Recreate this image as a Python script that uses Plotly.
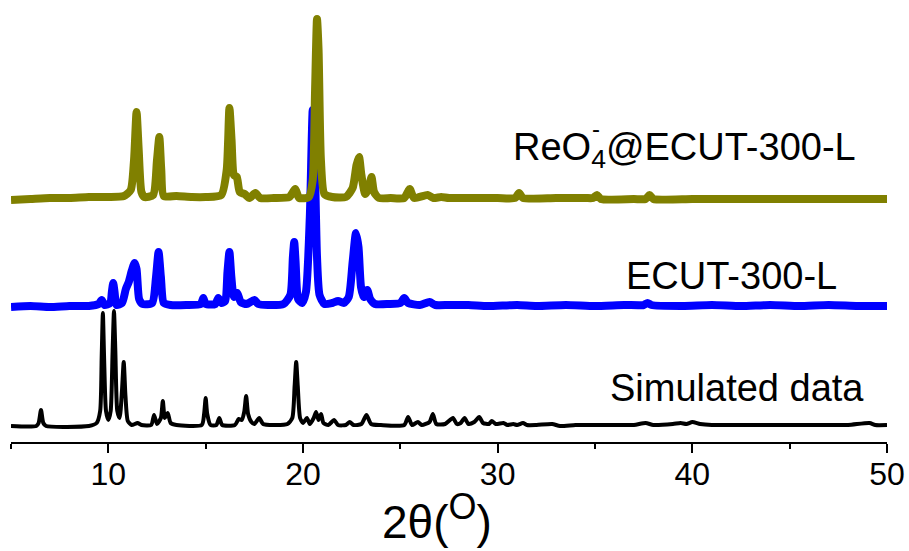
import plotly.graph_objects as go

# ---- data (2-theta in degrees, intensity in arbitrary units above each baseline) ----
sim_x = [5.0, 6.3, 6.42, 6.54, 6.66, 6.8, 9.0, 9.4, 9.58, 9.66, 9.72, 9.78, 9.88, 10.0,
         10.12, 10.22, 10.29, 10.36, 10.46, 10.58, 10.7, 10.79, 10.88, 11.0, 11.2,
         11.5, 11.7, 12.2, 12.35, 12.5, 12.7, 12.8, 12.9, 13.05, 13.2, 13.5, 14.8, 14.92, 15.0,
         15.08, 15.25, 15.55, 15.7, 15.85, 16.5, 16.7, 16.85, 16.98, 17.08, 17.18, 17.35, 17.5,
         17.75, 17.95, 18.5, 19.2, 19.45, 19.57, 19.65, 19.73, 19.85, 20.0, 20.2, 20.35, 20.55,
         20.67, 20.8, 20.93, 21.05, 21.3, 21.6, 21.8, 22.2, 22.4, 22.6, 23.0, 23.26, 23.5, 24.0,
         25.2, 25.4, 25.6, 25.9, 26.1, 26.5, 26.67, 26.85, 27.3, 27.7, 27.9, 28.1, 28.3, 28.5,
         28.8, 29.05, 29.25, 29.55, 29.7, 29.9, 30.3, 30.5, 30.8, 31.0, 31.3, 31.5, 32.0, 32.8,
         33.2, 34.0, 35.0, 36.0, 37.0, 37.6, 38.0, 39.0, 39.4, 39.7, 40.0, 40.4, 41.0, 42.0,
         43.5, 45.0, 46.5, 48.0, 49.1, 49.4, 50.0]
sim_y = [0, 0, 3, 16, 3, 0, 0, 3, 15, 70, 113, 70, 15, 6,
         15, 75, 115, 75, 15, 8, 35, 64, 30, 5, 1,
         3, 1, 1, 11, 2, 8, 25, 8, 13, 3, 1, 1, 12, 28,
         12, 1, 1, 8, 1, 1, 7, 6, 14, 30, 12, 4, 2,
         8, 2, 1, 2, 8, 40, 64, 40, 8, 3, 8, 2, 8,
         14, 6, 12, 3, 1, 6, 1, 1, 4, 1, 2, 11, 2, 1,
         1, 9, 1, 4, 1, 4, 12, 2, 2, 8, 2, 3, 8, 2,
         4, 9, 3, 2, 5, 2, 3, 1, 2, 1, 3, 1, 1, 2,
         0, 1, 1, 1, 1, 3, 1, 2, 3, 2, 4, 2, 1, 1,
         1, 1, 1, 1, 3, 1, 1]

ecut_x = [5.0, 6.0, 7.0, 8.0, 9.0, 9.5, 9.66, 9.8, 10.1, 10.18, 10.25, 10.32, 10.42, 10.7,
          10.9, 11.05, 11.2, 11.35, 11.45, 11.58, 11.75, 12.25, 12.45, 12.58, 12.7, 12.85,
          13.2, 14.0, 14.75, 14.88, 15.0, 15.5, 15.65, 15.8, 16.0, 16.12, 16.22, 16.32, 16.45,
          16.62, 16.8, 17.1, 17.5, 17.7, 18.2, 19.0, 19.35, 19.48, 19.55, 19.62, 19.75, 19.95,
          20.15, 20.35, 20.5, 20.6, 20.72, 20.85, 21.1, 21.5, 21.8, 22.1, 22.35, 22.55, 22.72,
          22.85, 22.98, 23.12, 23.3, 23.45, 23.7, 24.4, 25.0, 25.2, 25.4, 26.0, 26.5, 26.8,
          27.5, 28.5, 29.5, 31.0, 32.0, 33.5, 35.0, 36.5, 37.5, 37.7, 37.9, 39.5, 41.0, 42.5,
          44.0, 45.5, 47.0, 48.5, 50.0]
ecut_y = [0, 1, 0, 1, 1, 3, 7, 2, 4, 15, 24, 15, 2, 4,
          18, 25, 36, 44, 38, 8, 3, 4, 30, 55, 30, 4,
          2, 2, 3, 9, 3, 3, 9, 4, 6, 35, 55, 30, 10,
          14, 5, 3, 7, 3, 2, 3, 12, 50, 65, 45, 8, 4,
          15, 90, 197, 150, 50, 12, 3, 4, 6, 4, 10, 45, 74,
          60, 20, 10, 17, 8, 3, 3, 4, 9, 4, 2, 5, 2,
          2, 2, 1, 2, 1, 2, 1, 2, 2, 4, 2, 1, 2, 1,
          2, 1, 2, 1, 1]

reo4_x = [5.0, 6.0, 7.0, 8.0, 9.0, 10.0, 10.8, 11.15, 11.32, 11.45, 11.56, 11.7, 11.85, 12.3,
          12.5, 12.62, 12.72, 12.85, 13.5, 14.3, 15.0, 15.8, 16.08, 16.22, 16.33, 16.45, 16.6,
          16.75, 17.0, 17.25, 17.55, 17.8, 18.5, 19.3, 19.6, 19.8, 20.3, 20.5, 20.62, 20.72,
          20.8, 20.92, 21.1, 21.5, 22.2, 22.55, 22.75, 22.88, 23.0, 23.2, 23.38, 23.52, 23.65,
          23.9, 24.5, 25.2, 25.48, 25.7, 26.4, 26.7, 27.1, 27.5, 29.0, 30.0, 30.9, 31.1, 31.3,
          33.0, 34.5, 34.9, 35.1, 35.3, 37.0, 37.6, 37.8, 38.0, 40.0, 42.0, 44.0, 46.0, 48.0,
          50.0]
reo4_y = [0, 1, 2, 2, 3, 3, 4, 10, 40, 88, 50, 8, 3, 5,
          40, 63, 30, 4, 4, 3, 3, 5, 30, 92, 60, 25, 23,
          8, 6, 2, 7, 2, 2, 3, 11, 2, 3, 20, 110, 181,
          150, 40, 6, 3, 3, 12, 35, 43, 25, 6, 12, 23, 8,
          2, 2, 2, 11, 2, 5, 2, 3, 2, 2, 2, 2, 7, 2,
          2, 2, 2, 5, 1, 1, 1, 5, 1, 1, 1, 1, 1, 1,
          1]

tick_vals = [10, 20, 30, 40, 50]
tick_text = ["10", "20", "30", "40", "50"]

# vertical stacking offsets for the three patterns
OFF_SIM, OFF_ECUT, OFF_REO4 = 16, 135, 242

fig = go.Figure()
fig.add_trace(go.Scatter(x=sim_x, y=[v + OFF_SIM for v in sim_y], mode="lines",
                         line=dict(color="black", width=4, shape="spline", smoothing=0.6),
                         name="Simulated data"))
fig.add_trace(go.Scatter(x=ecut_x, y=[v + OFF_ECUT for v in ecut_y], mode="lines",
                         line=dict(color="#0000FF", width=8, shape="spline", smoothing=0.6),
                         name="ECUT-300-L"))
fig.add_trace(go.Scatter(x=reo4_x, y=[v + OFF_REO4 for v in reo4_y], mode="lines",
                         line=dict(color="#808000", width=8, shape="spline", smoothing=0.6),
                         name="ReO4-@ECUT-300-L"))

FONT = "Liberation Sans, Arial, sans-serif"
ann_font = dict(family=FONT, size=38, color="black")

fig.update_layout(
    width=909, height=551,
    margin=dict(l=11, r=22, t=10, b=109),
    paper_bgcolor="white", plot_bgcolor="white",
    showlegend=False,
    xaxis=dict(range=[5, 50], tickvals=tick_vals, ticktext=tick_text,
               ticks="outside", ticklen=9, tickwidth=1.5, tickcolor="black",
               minor=dict(tickvals=[5, 15, 25, 35, 45], ticks="outside", ticklen=5,
                          tickwidth=1.5, tickcolor="black"),
               showline=True, linecolor="black", linewidth=1.5,
               showgrid=False, zeroline=False, automargin=False,
               ticklabelstandoff=-6,
               tickfont=dict(family=FONT, size=32, color="black")),
    yaxis=dict(range=[0, 432], visible=False, fixedrange=True, automargin=False),
    annotations=[
        dict(x=48.51, y=292, xref="x", yref="y", xanchor="right", yanchor="middle",
             text="ReO<sub>4</sub>@ECUT-300-L", showarrow=False, font=ann_font),
        dict(x=35.05, y=314, xref="x", yref="y", xanchor="center", yanchor="middle",
             text="-", showarrow=False, font=dict(family=FONT, size=24, color="black")),
        dict(x=47.53, y=166, xref="x", yref="y", xanchor="right", yanchor="middle",
             text="ECUT-300-L", showarrow=False, font=ann_font),
        dict(x=48.91, y=54, xref="x", yref="y", xanchor="right", yanchor="middle",
             text="Simulated data", showarrow=False, font=ann_font),
        dict(x=0.486, y=-0.174, xref="paper", yref="paper", xanchor="center", yanchor="middle",
             text="2θ(<sup><span style='font-size:36px'>O</span></sup>)", showarrow=False,
             font=dict(family=FONT, size=46, color="black")),
    ],
)

# remove the page's default body margin so the 909x551 figure fills the window exactly
fig.write_html("out.html", config={"displayModeBar": False},
               post_script="document.body.style.margin='0';document.body.style.overflow='hidden';")
